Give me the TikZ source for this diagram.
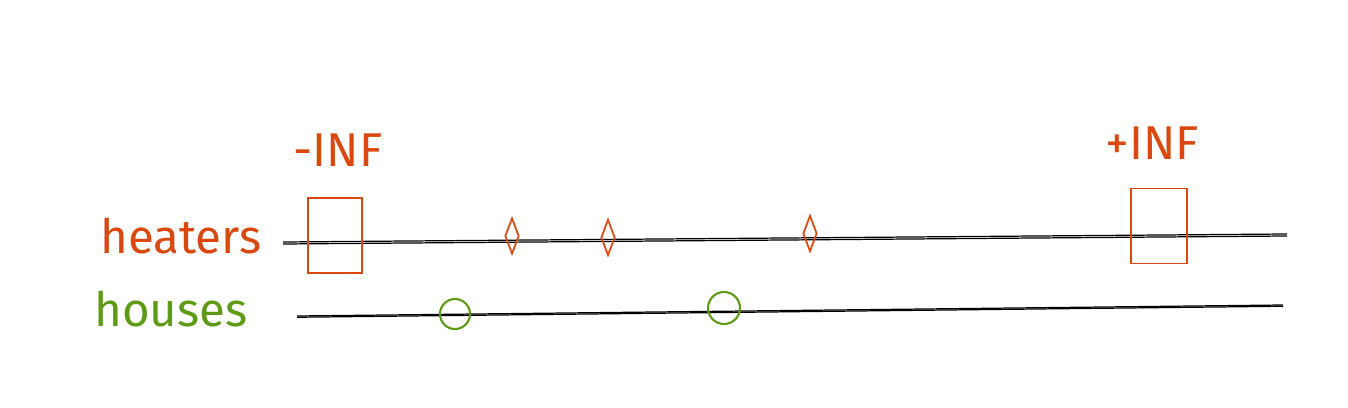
\documentclass[tikz,border=0pt]{standalone}
\usepackage{fontspec}
\setmainfont{Fira Sans}
\usetikzlibrary{shapes.geometric}
\definecolor{heatorange}{HTML}{D9480F}
\definecolor{housegreen}{HTML}{5F9A17}

\begin{document}
\begin{tikzpicture}[x=0.02cm, y=-0.02cm, line width=0.7pt,
    heaterbox/.style={draw=heatorange, rectangle, inner sep=0pt, line width=1pt, minimum width=1.08cm, minimum height=1.5cm},
    heatermark/.style={draw=heatorange, diamond, inner sep=0pt, line width=1pt, minimum width=0.28cm, minimum height=0.72cm},
    housemark/.style={draw=housegreen, circle, inner sep=0pt, minimum size=0.6cm, line width=1.2pt},
    label/.style={font=\fontsize{27}{30}\selectfont\mdseries}]
    \useasboundingbox (0,0) rectangle (1348,408);

    % 1. Define Coordinates of the two rails
    \coordinate (H0) at (283,242);
    \coordinate (H1) at (1287,234);
    \coordinate (C0) at (297,316);
    \coordinate (C1) at (1283,305);

    % 2. Draw the rails (double sketchy strokes)
    \draw (H0) -- (H1);
    \draw ([yshift=-0.04cm]H0) -- ([yshift=-0.04cm]H1);
    \draw (C0) -- (C1);
    \draw ([yshift=-0.025cm]C0) -- ([yshift=-0.025cm]C1);

    % 3. Sentinel heaters at both ends
    \node[heaterbox] (left) at (335,235.5) {};
    \node[heaterbox, minimum width=1.12cm] (right) at (1159,226) {};

    % 4. Heaters and houses on the rails
    \node[heatermark] (h1) at (512,236) {};
    \node[heatermark] (h2) at (608,237.5) {};
    \node[heatermark] (h3) at (810,233.5) {};
    \node[housemark] (c1) at (455,314) {};
    \node[housemark, minimum size=0.64cm] (c2) at (724,308) {};

    % 5. Add Labels
    \node[label, text=heatorange] (heaters) at (181,236) {heaters};
    \node[label, text=housegreen] (houses) at (171,309) {houses};
    \node[label, text=heatorange] (minf) at (338,150) {-INF};
    \node[label, text=heatorange] (pinf) at (1152,143) {+INF};

\end{tikzpicture}
\end{document}
